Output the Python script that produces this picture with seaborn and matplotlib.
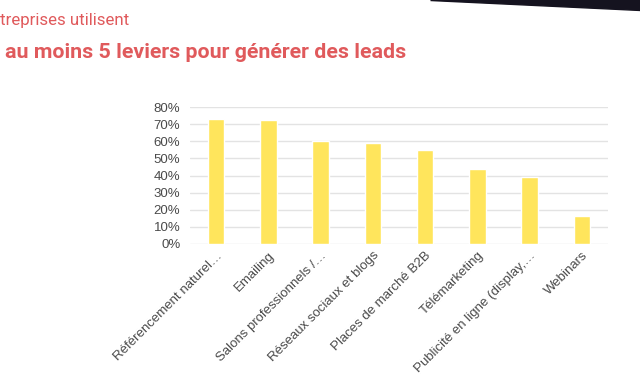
import numpy as np
import pandas as pd
import seaborn as sns
import matplotlib as mpl
from matplotlib import pyplot as plt
from matplotlib.patches import Polygon

# Chart data
levers = ['Référencement naturel…', 'Emailing', 'Salons professionnels /…',
          'Réseaux sociaux et blogs', 'Places de marché B2B', 'Télémarketing',
          'Publicité en ligne (display,…', 'Webinars']
shares = [0.73, 0.725, 0.60, 0.59, 0.55, 0.44, 0.39, 0.165]
y_ticks = [0, 0.1, 0.2, 0.3, 0.4, 0.5, 0.6, 0.7, 0.8]

title_line1 = 'treprises utilisent'
title_line2 = 'au moins 5 leviers pour générer des leads'

sns.set_style('white')
plt.rcParams['font.family'] = ['Liberation Sans', 'DejaVu Sans']

df = pd.DataFrame({'levier': levers, 'part': shares})

fig = plt.figure(figsize=(6.4, 3.85), dpi=100)
ax = fig.add_axes([190 / 640, 1 - 244 / 385, 418 / 640, 137 / 385])

sns.barplot(data=df, x='levier', y='part', ax=ax, color='#FFE55C',
            saturation=1, width=0.32, zorder=3)

ax.set_ylim(0, 0.8)
ax.set_xlim(-0.5, len(levers) - 0.5)
ax.set_yticks(y_ticks)
ax.set_yticklabels([f'{int(round(t * 100))}%' for t in y_ticks])
ax.yaxis.grid(True, color='#e3e3e3', linewidth=1, zorder=0)
ax.set_axisbelow(True)
for side in ['top', 'right', 'left', 'bottom']:
    ax.spines[side].set_visible(False)
ax.set_xlabel('')
ax.set_ylabel('')
ax.tick_params(axis='both', length=0, labelsize=9.5, colors='#4a4a4a')
ax.tick_params(axis='y', pad=7)
ax.tick_params(axis='x', pad=4)
plt.setp(ax.get_xticklabels(), rotation=45, ha='right', rotation_mode='anchor')

# Title lines in the top-left corner
fig.text(0.0, 1 - 21 / 385, title_line1, family=['Roboto', 'DejaVu Sans'],
         fontsize=12.2, color='#E05A5C', va='center', ha='left')
fig.text(5 / 640, 1 - 52 / 385, title_line2, family=['Roboto', 'DejaVu Sans'],
         fontsize=15.4, fontweight='bold', color='#E05A5C', va='center', ha='left')

# Dark decorative wedge at the top right
wedge = Polygon([(430 / 640, 1.0), (1.0, 1.0), (1.0, 1 - 10 / 385)],
                closed=True, transform=fig.transFigure, color='#15131f')
fig.patches.append(wedge)

fig.savefig('out.png', dpi=100)
